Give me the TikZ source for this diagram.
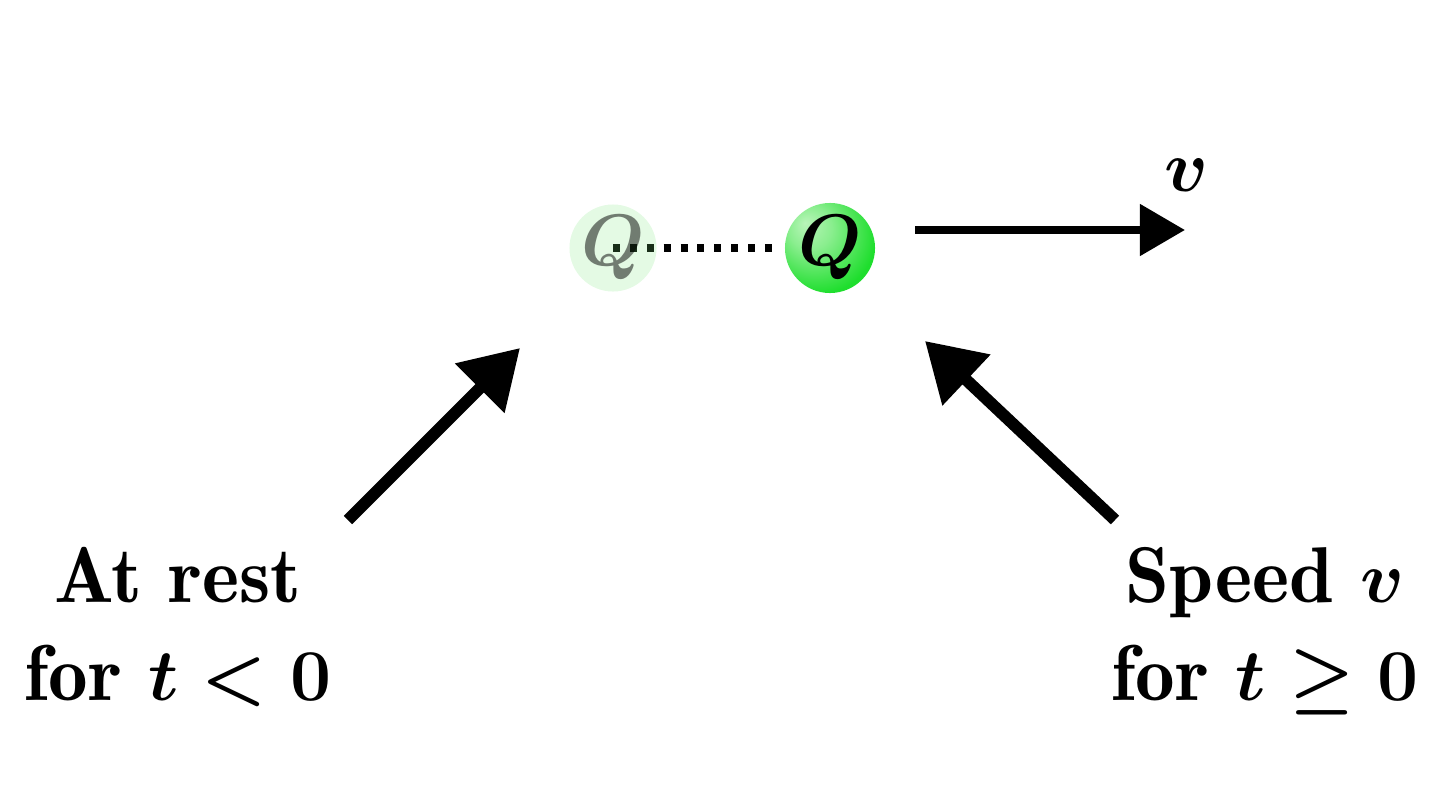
\documentclass[tikz,border=0pt]{standalone}
\usetikzlibrary{arrows.meta}
\definecolor{ballgreen}{RGB}{30,222,45}
\definecolor{ballhi}{RGB}{185,245,185}
\definecolor{paleg}{RGB}{120,230,120}
\pgfdeclareradialshading{chargeball}{\pgfpoint{-14bp}{14bp}}{color(0bp)=(ballhi); color(12bp)=(ballhi!70!ballgreen); color(32bp)=(ballgreen); color(60bp)=(ballgreen)}
\begin{document}
\begin{tikzpicture}[x=0.01cm,y=-0.01cm,
  lbl/.style={font=\fontsize{22.5}{28}\fontseries{b}\selectfont\boldmath, inner sep=0, anchor=base},
  qfont/.style={font=\fontsize{20.5}{26}\selectfont\boldmath, inner sep=0},
  bigarrow/.style={line width=3.4pt, -{Triangle[length=0.57cm,width=0.67cm]}},
  velarrow/.style={line width=2.3pt, -{Triangle[length=0.45cm,width=0.50cm]}},
  trail/.style={line width=2pt, dash pattern=on 2pt off 2.8pt}]
\useasboundingbox (0,0) rectangle (1444,800);
% positions
\coordinate (q0c) at (613,248);
\coordinate (q1c) at (830,248);
\coordinate (trailend) at (781,248);
% trail
\draw[trail] (q0c) -- (trailend);
% old charge
\node[circle, minimum size=0.87cm, inner sep=0, fill=paleg, fill opacity=0.2,
      label={[qfont, text opacity=0.5]center:$Q$}] (q0) at (q0c) {};
% moving charge
\node[circle, minimum size=0.90cm, inner sep=0, shading=chargeball,
      label={[qfont]center:$Q$}] (q1) at (q1c) {};
% velocity arrow
\coordinate (vstart) at (915,230);
\coordinate (vend) at (1185,230);
\draw[velarrow] (vstart) -- (vend);
\node[font=\fontsize{21}{26}\selectfont\boldmath, inner sep=0] (vlbl) at (1187,175) {$v$};
% labels
\node[lbl] (restA) at (178,602) {At rest};
\node[lbl] (restB) at (178,700) {for $t<0$};
\node[lbl] (speedA) at (1265,602) {Speed $v$};
\node[lbl] (speedB) at (1265,700) {for $t\geq 0$};
% pointer arrows
\coordinate (ltail) at (348,520);
\coordinate (ltip) at (520,348);
\coordinate (rtail) at (1115,520);
\coordinate (rtip) at (925,341);
\draw[bigarrow] (ltail) -- (ltip);
\draw[bigarrow] (rtail) -- (rtip);
\end{tikzpicture}
\end{document}
